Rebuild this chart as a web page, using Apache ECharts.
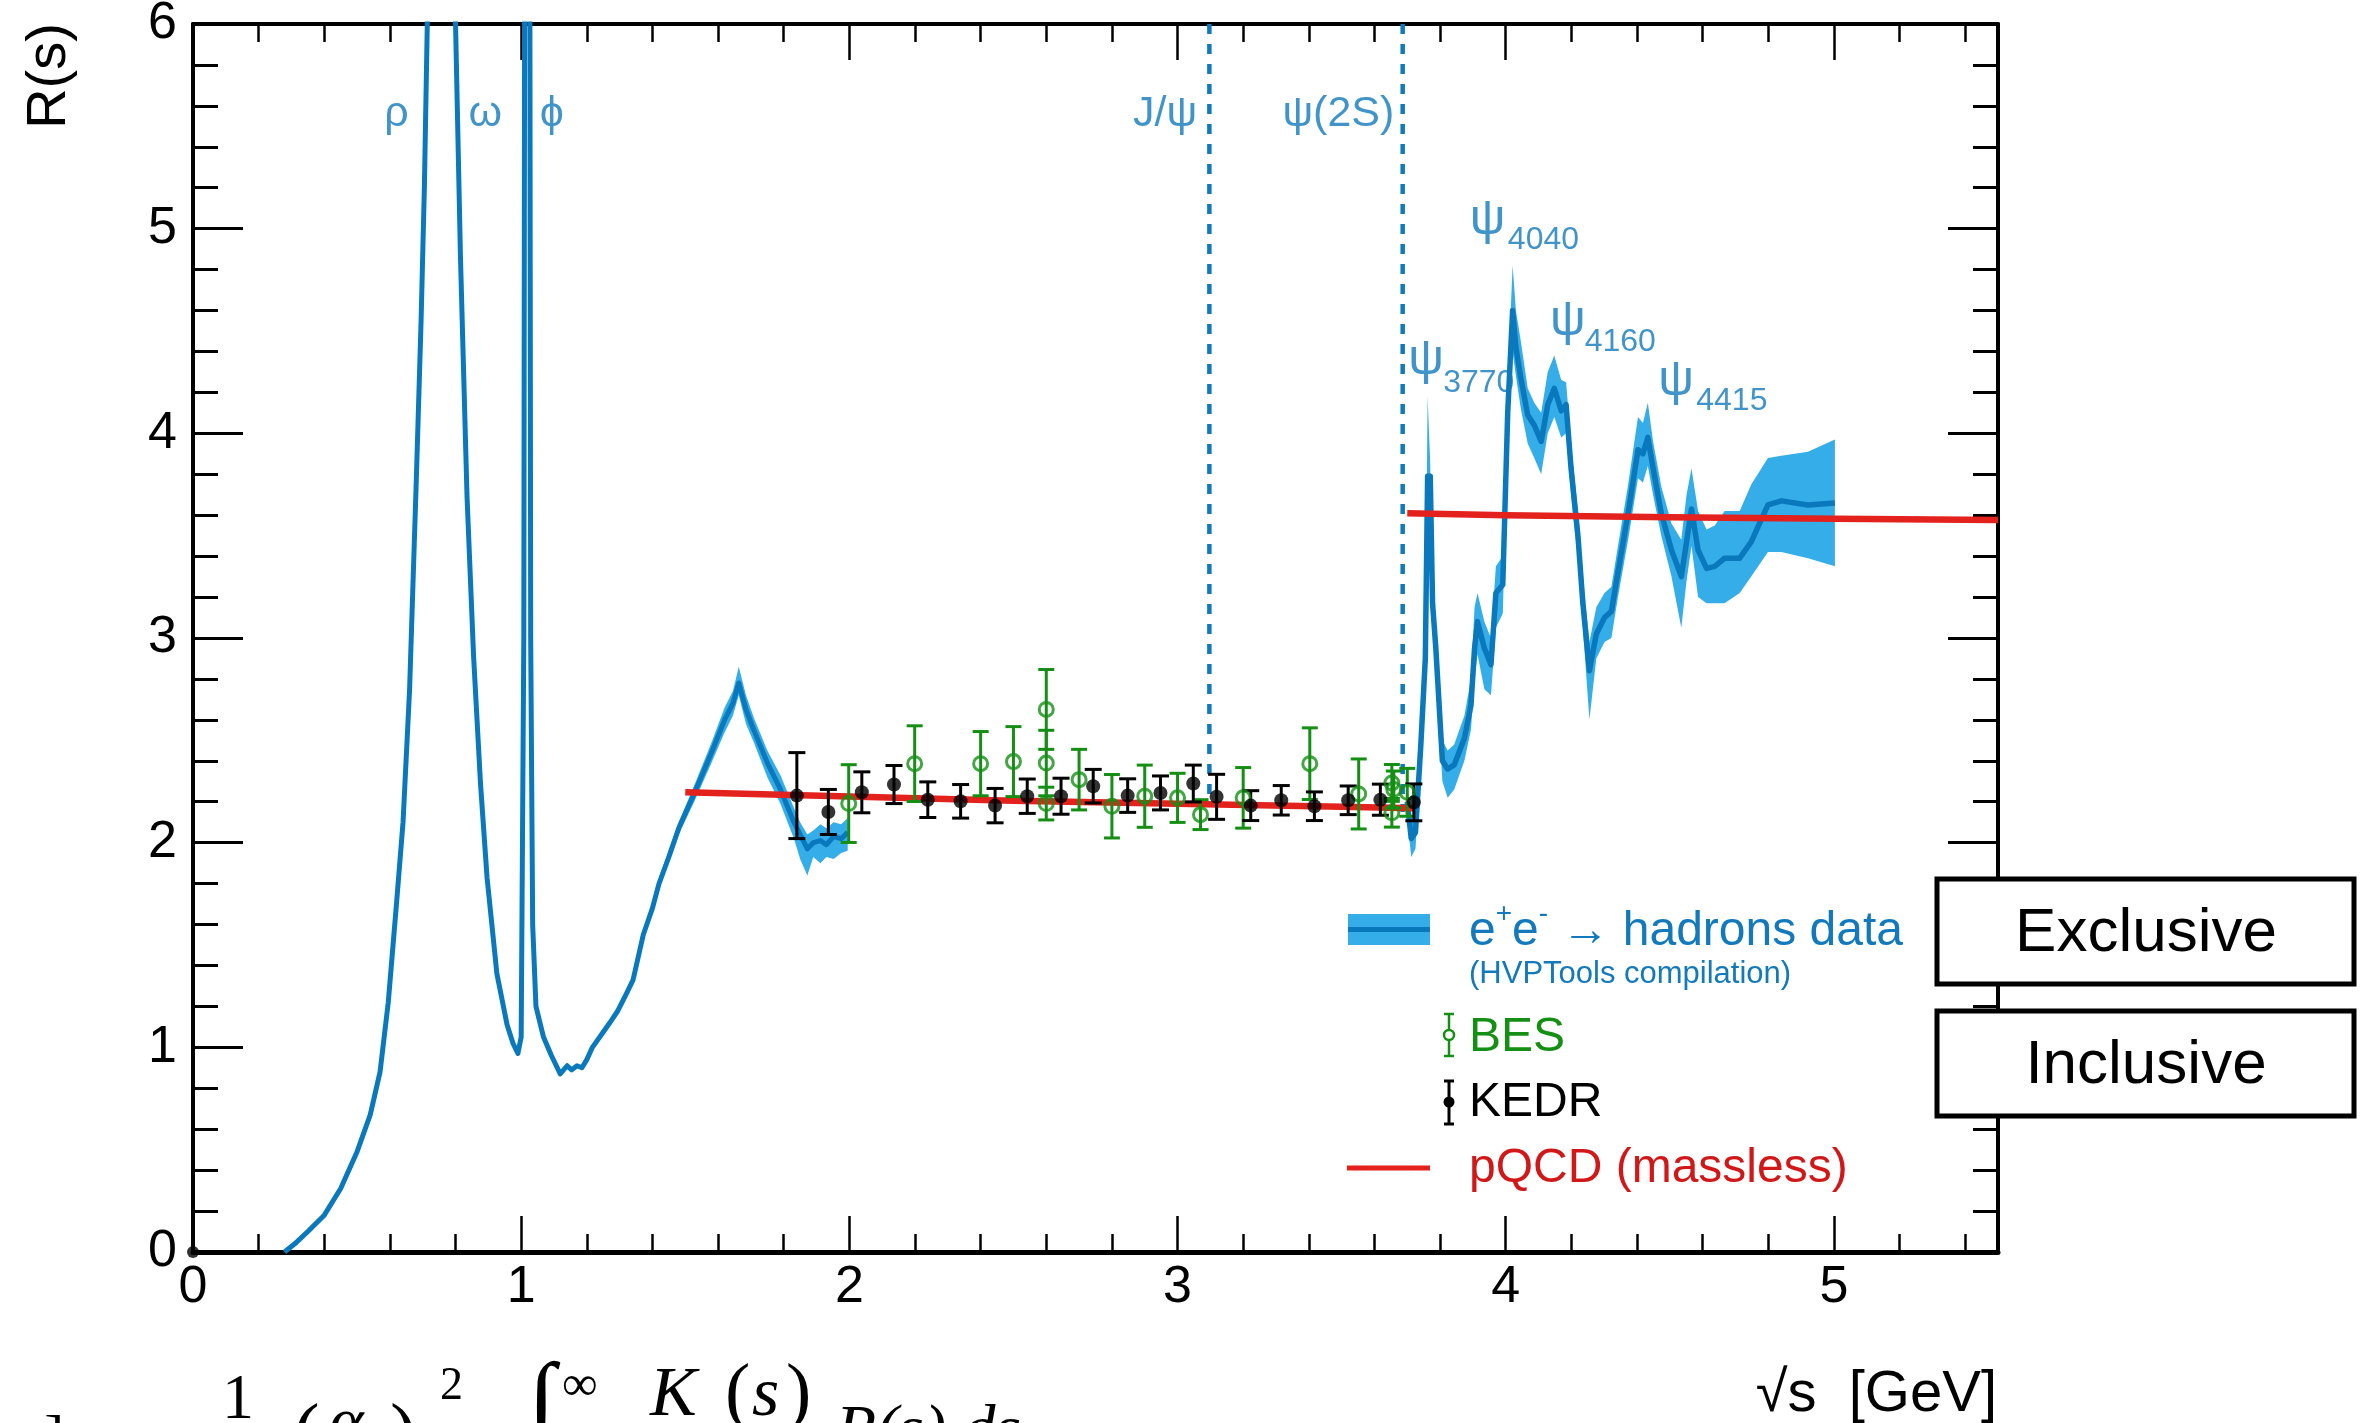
<!DOCTYPE html>
<html>
<head>
<meta charset="utf-8">
<script src="https://cdn.jsdelivr.net/npm/echarts@6/dist/echarts.min.js"></script>
<style>
  html, body { margin: 0; padding: 0; background: #ffffff; }
  #chart { width: 2362px; height: 1423px; }
</style>
</head>
<body>
<div id="chart"></div>
<script>
// ---- R(s) = sigma(e+e- -> hadrons) / sigma(e+e- -> mu+mu-) ----

// Exclusive data compilation below 2 GeV (central curve)
const lowX = [0.279,0.31,0.35,0.40,0.45,0.50,0.54,0.57,0.595,0.62,0.64,0.66,0.68,0.695,0.705,0.715,0.73,0.75,0.77,0.778,0.782,0.786,0.795,0.80,0.815,0.835,0.855,0.876,0.896,0.926,0.957,0.975,0.99,1.0,1.008,1.012,1.019,1.025,1.029,1.035,1.045,1.068,1.092,1.119,1.14,1.154,1.17,1.185,1.2,1.217,1.248,1.27,1.295,1.32,1.341,1.372,1.40,1.42,1.45,1.48,1.53,1.58,1.62,1.645,1.663,1.685,1.709,1.75,1.79,1.831,1.872,1.89,1.912,1.93,1.952,1.975,1.995];
const lowR = [0,0.04,0.10,0.18,0.31,0.49,0.67,0.88,1.22,1.70,2.10,2.75,3.75,4.55,5.2,6.1,7.5,9.5,11,10.5,40,10,7.2,6.0,4.86,3.69,2.91,2.29,1.83,1.36,1.11,1.02,0.97,1.05,3,8,40,8,3,1.6,1.2,1.05,0.96,0.87,0.91,0.89,0.91,0.90,0.94,1.0,1.07,1.12,1.18,1.26,1.33,1.55,1.68,1.80,1.93,2.07,2.25,2.44,2.60,2.68,2.78,2.65,2.55,2.39,2.26,2.10,1.97,2.00,2.01,1.99,2.03,2.02,2.05];

// Uncertainty band of the exclusive data (1.4 - 2 GeV)
const lowBandX  = [1.42,1.48,1.53,1.58,1.62,1.645,1.663,1.685,1.709,1.75,1.79,1.831,1.85,1.872,1.89,1.912,1.93,1.952,1.975,1.995];
const lowBandLo = [1.78,2.04,2.21,2.39,2.54,2.62,2.72,2.58,2.49,2.32,2.19,2.02,1.92,1.84,1.93,1.90,1.93,1.92,1.95,1.96];
const lowBandHi = [1.83,2.10,2.29,2.49,2.66,2.74,2.86,2.72,2.61,2.45,2.33,2.17,2.10,2.04,2.06,2.09,2.07,2.10,2.09,2.12];

// Charmonium region above the open-charm threshold (central, lower and upper edge)
const highX  = [3.700,3.712,3.725,3.741,3.755,3.762,3.770,3.777,3.787,3.807,3.823,3.843,3.874,3.894,3.905,3.914,3.935,3.955,3.970,3.991,4.006,4.021,4.031,4.046,4.067,4.087,4.108,4.128,4.148,4.169,4.184,4.199,4.220,4.235,4.255,4.276,4.301,4.322,4.342,4.373,4.403,4.418,4.433,4.449,4.474,4.505,4.535,4.551,4.566,4.586,4.612,4.637,4.667,4.713,4.748,4.799,4.840,4.921,5.003];
const highR  = [2.20,2.02,2.05,2.47,2.90,3.79,3.79,3.17,2.95,2.40,2.36,2.38,2.51,2.67,2.95,3.08,2.95,2.87,3.22,3.26,4.10,4.60,4.42,4.27,4.09,4.04,3.96,4.14,4.22,4.11,4.14,3.83,3.50,3.17,2.84,3.02,3.10,3.13,3.32,3.61,3.92,3.90,3.98,3.83,3.61,3.43,3.30,3.47,3.63,3.43,3.34,3.35,3.39,3.39,3.47,3.65,3.67,3.65,3.66];
const highLo = [2.12,1.93,1.97,2.38,2.80,3.60,3.60,3.08,2.85,2.30,2.22,2.26,2.40,2.55,2.80,2.92,2.75,2.72,3.05,3.12,3.95,4.40,4.28,4.12,3.95,3.88,3.80,4.00,4.08,3.98,4.00,3.70,3.38,3.05,2.60,2.90,2.98,3.00,3.20,3.48,3.78,3.76,3.84,3.70,3.50,3.30,3.05,3.28,3.45,3.20,3.17,3.17,3.17,3.22,3.30,3.42,3.42,3.39,3.35];
const highHi = [2.28,2.10,2.13,2.56,3.00,4.18,3.85,3.28,3.05,2.50,2.45,2.48,2.62,2.80,3.15,3.22,3.08,3.00,3.35,3.40,4.25,4.82,4.60,4.45,4.22,4.15,4.10,4.30,4.38,4.26,4.25,3.95,3.62,3.30,2.98,3.15,3.22,3.25,3.45,3.75,4.08,4.05,4.15,3.96,3.74,3.56,3.48,3.70,3.83,3.62,3.53,3.55,3.62,3.62,3.75,3.88,3.89,3.91,3.97];

// KEDR inclusive measurements
const kedrX   = [1.84,1.936,2.038,2.136,2.239,2.339,2.444,2.542,2.645,2.743,2.848,2.948,3.048,3.119,3.223,3.316,3.417,3.52,3.618,3.72];
const kedrR   = [2.23,2.15,2.246,2.284,2.21,2.202,2.181,2.227,2.227,2.276,2.23,2.243,2.289,2.224,2.181,2.207,2.178,2.207,2.21,2.197];
const kedrErr = [0.21,0.11,0.10,0.093,0.087,0.082,0.084,0.084,0.088,0.082,0.082,0.083,0.09,0.11,0.073,0.072,0.07,0.07,0.076,0.09];

// BES inclusive measurements
const besX   = [1.998,2.199,2.4,2.5,2.6,2.6,2.6,2.7,2.8,2.9,3.0,3.07,3.2,3.403,3.552,3.653,3.653,3.659,3.70];
const besR   = [2.191,2.386,2.386,2.396,2.651,2.389,2.191,2.308,2.178,2.227,2.219,2.137,2.219,2.386,2.238,2.292,2.146,2.26,2.246];
const besErr = [0.19,0.185,0.157,0.171,0.195,0.16,0.08,0.148,0.155,0.152,0.12,0.073,0.148,0.175,0.171,0.09,0.07,0.09,0.117];

// Massless perturbative QCD (below and above the charm threshold)
const pqcdLowX  = [1.5,2.0,2.5,3.0,3.5,3.72];
const pqcdLowR  = [2.246,2.225,2.205,2.19,2.175,2.168];
const pqcdHighX = [3.70,4.0,4.5,5.0,5.5];
const pqcdHighR = [3.61,3.60,3.59,3.583,3.577];

// Narrow charmonium states marked by dashed lines
const narrowMass = [3.097, 3.686];
const narrowTop  = [6, 6];
const narrowEnd  = [2.21, 2.15];

// Resonance names
const resNames = ['ρ', 'ω', 'ϕ', 'J/ψ', 'ψ(2S)'];
const resX     = [0.62, 0.891, 1.093, 2.962, 3.49];
const resY     = [5.56, 5.56, 5.56, 5.56, 5.56];
const psiSub   = ['3770', '4040', '4160', '4415'];
const psiX     = [3.757, 3.945, 4.189, 4.519];
const psiY     = [4.356, 5.04, 4.547, 4.253];
const psiSubX  = [3.918, 4.115, 4.349, 4.689];
const psiSubY  = [4.245, 4.945, 4.444, 4.158];

const xTickLabels = ['0', '1', '2', '3', '4', '5'];

// ---- styling ----
const SANS = 'Liberation Sans, Arial, Helvetica, sans-serif';
const SERIF = 'Liberation Serif, DejaVu Serif, serif';
const BLUE_DARK = '#0a78bc';
const BLUE_BAND = '#35ade8';
const BLUE_TEXT = '#1279bd';
const RED = '#e3211d';
const GREEN = '#148f14';

const chart = echarts.init(document.getElementById('chart'), null, { renderer: 'canvas' });

function zipXY(xs, ys) { return xs.map((x, i) => [x, ys[i]]); }

function bandSeries(xs, lo, hi) {
  return {
    type: 'custom',
    xAxisIndex: 0, yAxisIndex: 0,
    encode: { x: 0, y: 1 },
    clip: true,
    silent: true,
    z: 1,
    data: xs.map((x, i) => [x, lo[i], hi[i]]),
    renderItem: function (params, api) {
      if (params.dataIndex !== 0) return null;
      const pts = [];
      for (let i = 0; i < xs.length; i++) pts.push(api.coord([xs[i], hi[i]]));
      for (let i = xs.length - 1; i >= 0; i--) pts.push(api.coord([xs[i], lo[i]]));
      return { type: 'polygon', shape: { points: pts }, style: { fill: BLUE_BAND } };
    }
  };
}

function errorBarSeries(xs, ys, es, color, width, cap) {
  return {
    type: 'custom',
    xAxisIndex: 0, yAxisIndex: 0,
    encode: { x: 0, y: 1 },
    silent: true,
    z: 5,
    data: xs.map((x, i) => [x, ys[i], es[i]]),
    renderItem: function (params, api) {
      const x = api.value(0), y = api.value(1), e = api.value(2);
      const t = api.coord([x, y + e]);
      const b = api.coord([x, y - e]);
      const h = cap / 2;
      const st = { stroke: color, lineWidth: width };
      return {
        type: 'group',
        children: [
          { type: 'line', shape: { x1: t[0], y1: t[1], x2: b[0], y2: b[1] }, style: st },
          { type: 'line', shape: { x1: t[0] - h, y1: t[1], x2: t[0] + h, y2: t[1] }, style: st },
          { type: 'line', shape: { x1: b[0] - h, y1: b[1], x2: b[0] + h, y2: b[1] }, style: st }
        ]
      };
    }
  };
}

function lineSeries(xs, ys, color, width, z, dash) {
  return {
    type: 'line',
    xAxisIndex: 0, yAxisIndex: 0,
    data: zipXY(xs, ys),
    showSymbol: false,
    symbol: 'none',
    clip: true,
    silent: true,
    z: z,
    lineStyle: { color: color, width: width, type: dash || 'solid', cap: 'butt', join: 'round' }
  };
}

function xAxisDef(pos, interval, tickLen, showLine, showLabel) {
  return {
    type: 'value', min: 0, max: 5.5, interval: interval, position: pos,
    axisLine: { show: showLine, onZero: false, lineStyle: { color: '#000', width: pos === 'bottom' ? 5 : 4 } },
    axisTick: { show: true, inside: true, length: tickLen, lineStyle: { color: '#000', width: 2.5 } },
    axisLabel: {
      show: showLabel, fontSize: 52, color: '#000', fontFamily: SANS, margin: 10,
      showMaxLabel: false,
      formatter: function (v) { return Number.isInteger(v) ? xTickLabels[v] : ''; }
    },
    splitLine: { show: false }, minorTick: { show: false }
  };
}

function yAxisDef(pos, interval, tickLen, showLine, showLabel) {
  return {
    type: 'value', min: 0, max: 6, interval: interval, position: pos,
    axisLine: { show: showLine, onZero: false, lineStyle: { color: '#000', width: 4 } },
    axisTick: { show: true, inside: true, length: tickLen, lineStyle: { color: '#000', width: 3 } },
    axisLabel: { show: showLabel, fontSize: 52, color: '#000', fontFamily: SANS, margin: 16 },
    splitLine: { show: false }, minorTick: { show: false }
  };
}

const labelData = [];
resNames.forEach((n, i) => labelData.push({ value: [resX[i], resY[i]], label: { formatter: n, fontSize: 43 } }));
psiSub.forEach((s, i) => {
  labelData.push({ value: [psiX[i], psiY[i]], label: { formatter: 'ψ', fontSize: 50 } });
  labelData.push({ value: [psiSubX[i], psiSubY[i]], label: { formatter: s, fontSize: 32 } });
});

const series = [
  bandSeries(lowBandX, lowBandLo, lowBandHi),
  bandSeries(highX, highLo, highHi),
  lineSeries(lowX, lowR, BLUE_DARK, 5, 2),
  lineSeries(highX, highR, BLUE_DARK, 5.5, 2),
  // dashed lines for J/psi and psi(2S)
  lineSeries([narrowMass[0], narrowMass[0]], [narrowTop[0], narrowEnd[0]], BLUE_TEXT, 4.5, 2, [10, 10]),
  lineSeries([narrowMass[1], narrowMass[1]], [narrowTop[1], narrowEnd[1]], BLUE_TEXT, 4.5, 2, [10, 10]),
  lineSeries(pqcdLowX, pqcdLowR, RED, 6.5, 3),
  lineSeries(pqcdHighX, pqcdHighR, RED, 6.5, 3),
  errorBarSeries(besX, besR, besErr, GREEN, 3, 16),
  {
    type: 'scatter', xAxisIndex: 0, yAxisIndex: 0, z: 6, silent: true,
    data: zipXY(besX, besR), symbol: 'circle', symbolSize: 14,
    itemStyle: { color: 'rgba(255,255,255,0)', borderColor: GREEN, borderWidth: 3 }
  },
  errorBarSeries(kedrX, kedrR, kedrErr, '#000', 3, 17),
  {
    type: 'scatter', xAxisIndex: 0, yAxisIndex: 0, z: 6, silent: true,
    data: zipXY(kedrX, kedrR), symbol: 'circle', symbolSize: 14,
    itemStyle: { color: '#000' }
  },
  {
    // marker at the origin of the frame
    type: 'scatter', xAxisIndex: 0, yAxisIndex: 0, z: 7, silent: true, clip: false,
    data: [[0, 0]], symbol: 'circle', symbolSize: 12, itemStyle: { color: '#000' }
  },
  {
    type: 'scatter', xAxisIndex: 0, yAxisIndex: 0, z: 8, silent: true, clip: false,
    symbolSize: 0,
    data: labelData,
    label: { show: true, position: 'inside', color: BLUE_TEXT, fontFamily: SANS, align: 'center', verticalAlign: 'middle' }
  }
];

// legend, boxes, titles and the formula fragment below the frame
const graphics = [
  // legend: e+e- -> hadrons
  { type: 'rect', shape: { x: 1348, y: 914, width: 82, height: 31 }, style: { fill: BLUE_BAND }, z: 20 },
  { type: 'line', shape: { x1: 1348, y1: 929.5, x2: 1430, y2: 929.5 }, style: { stroke: BLUE_DARK, lineWidth: 5 }, z: 21 },
  { type: 'text', x: 1469, y: 928, z: 21, style: {
      text: '{a|e}{s|+}{a|e}{s|-}{a| → hadrons data}', fill: BLUE_TEXT, verticalAlign: 'middle',
      rich: { a: { fontSize: 48, fontFamily: SANS, fill: BLUE_TEXT, lineHeight: 56, verticalAlign: 'bottom' },
              s: { fontSize: 28, fontFamily: SANS, fill: BLUE_TEXT, lineHeight: 56, verticalAlign: 'top' } } } },
  { type: 'text', x: 1469, y: 974, z: 21, style: { text: '(HVPTools compilation)', fill: BLUE_TEXT, font: '31px ' + SANS, verticalAlign: 'middle' } },
  // legend: BES
  { type: 'line', shape: { x1: 1449, y1: 1014, x2: 1449, y2: 1056 }, style: { stroke: GREEN, lineWidth: 2.5 }, z: 21 },
  { type: 'line', shape: { x1: 1444, y1: 1014, x2: 1454, y2: 1014 }, style: { stroke: GREEN, lineWidth: 2.5 }, z: 21 },
  { type: 'line', shape: { x1: 1444, y1: 1056, x2: 1454, y2: 1056 }, style: { stroke: GREEN, lineWidth: 2.5 }, z: 21 },
  { type: 'circle', shape: { cx: 1449, cy: 1035, r: 5 }, style: { fill: '#fff', stroke: GREEN, lineWidth: 2.5 }, z: 22 },
  { type: 'text', x: 1469, y: 1038, z: 21, style: { text: 'BES', fill: GREEN, font: '48px ' + SANS, verticalAlign: 'middle' } },
  // legend: KEDR
  { type: 'line', shape: { x1: 1449, y1: 1081, x2: 1449, y2: 1124 }, style: { stroke: '#000', lineWidth: 3 }, z: 21 },
  { type: 'line', shape: { x1: 1444, y1: 1081, x2: 1454, y2: 1081 }, style: { stroke: '#000', lineWidth: 3 }, z: 21 },
  { type: 'line', shape: { x1: 1444, y1: 1124, x2: 1454, y2: 1124 }, style: { stroke: '#000', lineWidth: 3 }, z: 21 },
  { type: 'circle', shape: { cx: 1449, cy: 1102, r: 5.5 }, style: { fill: '#000' }, z: 22 },
  { type: 'text', x: 1469, y: 1103, z: 21, style: { text: 'KEDR', fill: '#000', font: '48px ' + SANS, verticalAlign: 'middle' } },
  // legend: pQCD
  { type: 'line', shape: { x1: 1347, y1: 1168, x2: 1430, y2: 1168 }, style: { stroke: RED, lineWidth: 5 }, z: 21 },
  { type: 'text', x: 1469, y: 1169, z: 21, style: { text: 'pQCD (massless)', fill: '#d11717', font: '48px ' + SANS, verticalAlign: 'middle' } },
  // boxes
  { type: 'rect', shape: { x: 1937, y: 879, width: 417, height: 105 }, style: { fill: '#fff', stroke: '#000', lineWidth: 5 }, z: 30 },
  { type: 'text', x: 2146, y: 934, z: 31, style: { text: 'Exclusive', fill: '#000', font: '62px ' + SANS, align: 'center', verticalAlign: 'middle' } },
  { type: 'rect', shape: { x: 1937, y: 1011, width: 417, height: 105 }, style: { fill: '#fff', stroke: '#000', lineWidth: 5 }, z: 30 },
  { type: 'text', x: 2146, y: 1066, z: 31, style: { text: 'Inclusive', fill: '#000', font: '62px ' + SANS, align: 'center', verticalAlign: 'middle' } },
  // axis titles
  { type: 'text', x: 50, y: 76, rotation: Math.PI / 2, z: 20, style: { text: 'R(s)', fill: '#000', font: '56px ' + SANS, align: 'center', verticalAlign: 'middle' } },
  { type: 'text', x: 1997, y: 1395, z: 20, style: { text: '√s  [GeV]', fill: '#000', font: '58px ' + SANS, align: 'right', verticalAlign: 'middle' } },
  // formula fragment at the bottom edge
  { type: 'text', x: 222, y: 1369, z: 20, style: { text: '1', fill: '#000', font: '64px ' + SERIF, verticalAlign: 'top' } },
  { type: 'text', x: 293, y: 1398, z: 20, style: { text: '(', fill: '#000', font: '80px ' + SERIF, verticalAlign: 'top' } },
  { type: 'text', x: 329, y: 1392, z: 20, style: { text: 'α', fill: '#000', font: 'italic 66px ' + SERIF, verticalAlign: 'top' } },
  { type: 'text', x: 390, y: 1398, z: 20, style: { text: ')', fill: '#000', font: '80px ' + SERIF, verticalAlign: 'top' } },
  { type: 'text', x: 440, y: 1364, z: 20, style: { text: '2', fill: '#000', font: '46px ' + SERIF, verticalAlign: 'top' } },
  { type: 'text', x: 528, y: 1356, z: 20, style: { text: '∫', fill: '#000', font: '100px ' + SERIF, verticalAlign: 'top' } },
  { type: 'text', x: 562, y: 1362, z: 20, style: { text: '∞', fill: '#000', font: '50px ' + SERIF, verticalAlign: 'top' } },
  { type: 'text', x: 650, y: 1362, z: 20, style: { text: 'K', fill: '#000', font: 'italic 70px ' + SERIF, verticalAlign: 'top' } },
  { type: 'text', x: 725, y: 1358, z: 20, style: { text: '(', fill: '#000', font: '76px ' + SERIF, verticalAlign: 'top' } },
  { type: 'text', x: 752, y: 1362, z: 20, style: { text: 's', fill: '#000', font: 'italic 70px ' + SERIF, verticalAlign: 'top' } },
  { type: 'text', x: 786, y: 1358, z: 20, style: { text: ')', fill: '#000', font: '76px ' + SERIF, verticalAlign: 'top' } },
  { type: 'text', x: 836, y: 1400, z: 20, style: { text: 'R(s) ds', fill: '#000', font: 'italic 66px ' + SERIF, verticalAlign: 'top' } },
  { type: 'text', x: 0, y: 1410, z: 20, style: { text: 's₀]', fill: '#000', font: '60px ' + SERIF, verticalAlign: 'top' } }
];

const option = {
  animation: false,
  backgroundColor: '#ffffff',
  grid: { left: 193, right: 364, top: 24, bottom: 171, containLabel: false, outerBoundsMode: 'none' },
  xAxis: [
    xAxisDef('bottom', 1, 36, true, true),
    xAxisDef('bottom', 0.2, 18, false, false),
    xAxisDef('top', 1, 36, true, false),
    xAxisDef('top', 0.2, 18, false, false)
  ],
  yAxis: [
    yAxisDef('left', 1, 50, true, true),
    yAxisDef('left', 0.2, 25, false, false),
    yAxisDef('right', 1, 50, true, false),
    yAxisDef('right', 0.2, 25, false, false)
  ],
  series: series,
  graphic: graphics
};

chart.setOption(option);
</script>
</body>
</html>
